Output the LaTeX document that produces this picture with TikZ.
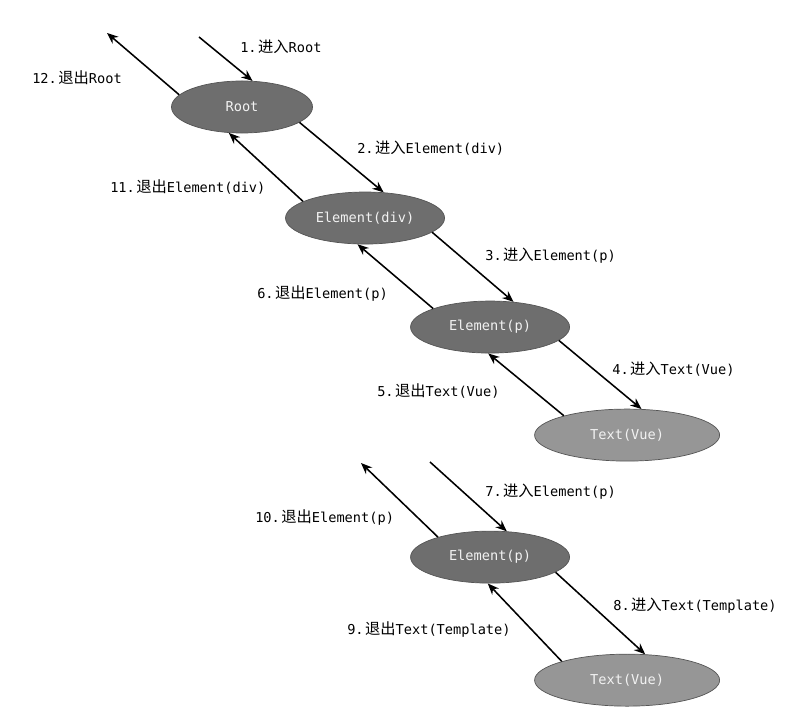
\documentclass[tikz,border=0pt]{standalone}
\usepackage{fontspec}
\setmainfont{DejaVu Sans Mono}
\newfontfamily\cjk[Scale=1.12]{Noto Sans CJK SC}
\usetikzlibrary{shapes.geometric, arrows.meta, positioning}
\definecolor{dC} {RGB}{110,110,110}
\definecolor{lC} {RGB}{150,150,150}
\definecolor{bdC}{RGB}{ 85, 85, 85}
\newcommand{\jinru}{\hspace{1pt}{\cjk 进入}}
\newcommand{\tuichu}{\hspace{1pt}{\cjk 退出}}
\tikzset{
  nd/.style  = {ellipse, draw=bdC, fill=#1, line width=0.5pt,
                text=white!95!black, inner sep=0pt, minimum height=1.3cm},
  arr/.style = {-{Stealth[length=8pt, width=6.5pt]}, line width=1.1pt},
  lbl/.style = {inner sep=0pt, anchor=west},
}
\begin{document}
\begin{tikzpicture}[x=0.025cm, y=-0.025cm, on grid,
                    font=\fontsize{9.7}{11}\selectfont]
\useasboundingbox (0,0) rectangle (800,727);

% ---- Tree nodes -------------------------------------------------------------
\node[nd=dC, minimum width=3.525cm] (root) at (242,107) {Root};
\node[nd=dC, minimum width=3.975cm, below right=2.775cm and 3.075cm of root]
  (div) {Element(div)};
\node[nd=dC, minimum width=3.975cm, below right=2.725cm and 3.125cm of div]
  (p) {Element(p)};
\node[nd=lC, minimum width=4.625cm, below right=2.7cm and 3.425cm of p]
  (vue) {Text(Vue)};

% second pass
\node[nd=dC, minimum width=3.975cm, below=5.75cm of p] (pp) {Element(p)};
\node[nd=lC, minimum width=4.625cm, below right=3.075cm and 3.425cm of pp]
  (tpl) {Text(Vue)};

% ---- Free ends ----------------------------------------------------------------
\coordinate (in1)   at (199,37);
\coordinate (out12) at (107,33);
\coordinate (in7)   at (430,462);
\coordinate (out10) at (361,463);

% ---- Enter / exit arrows ------------------------------------------------------
\draw[arr] (in1)       -- (root.68);
\draw[arr] (root.169)  -- (out12);
\draw[arr] (root.-15)  -- (div.54);
\draw[arr] (div.165)   -- (root.-117);
\draw[arr] (div.-12)   -- (p.47);
\draw[arr] (p.162)     -- (div.-106);
\draw[arr] (p.-11)     -- (vue.61);
\draw[arr] (vue.163)   -- (p.-94);

\draw[arr] (in7)       -- (pp.57);
\draw[arr] (pp.159)    -- (out10);
\draw[arr] (pp.-13)    -- (tpl.55);
\draw[arr] (tpl.164)   -- (pp.-95);

% ---- Step labels --------------------------------------------------------------
\node[lbl] (l1)  at (240,47)  {1.\jinru Root};
\node[lbl] (l12) at (32,78)   {12.\tuichu Root};
\node[lbl] (l2)  at (357,148) {2.\jinru Element(div)};
\node[lbl] (l11) at (110,187) {11.\tuichu Element(div)};
\node[lbl] (l3)  at (485,256) {3.\jinru Element(p)};
\node[lbl] (l6)  at (257,294) {6.\tuichu Element(p)};
\node[lbl] (l4)  at (612,369) {4.\jinru Text(Vue)};
\node[lbl] (l5)  at (377,391) {5.\tuichu Text(Vue)};
\node[lbl] (l7)  at (485,492) {7.\jinru Element(p)};
\node[lbl] (l10) at (255,518) {10.\tuichu Element(p)};
\node[lbl] (l8)  at (613,606) {8.\jinru Text(Template)};
\node[lbl] (l9)  at (347,630) {9.\tuichu Text(Template)};

\end{tikzpicture}
\end{document}
